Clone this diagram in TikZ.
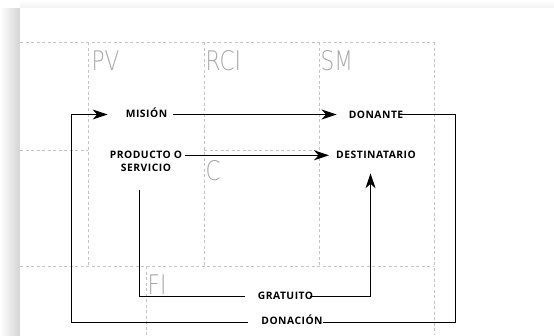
\documentclass[tikz,border=0pt]{standalone}
\usepackage{fontspec}
\setmainfont{Open Sans}
\newfontfamily\tagfont[LetterSpace=5]{Open Sans}
\newfontfamily\cellfont[FakeStretch=0.8]{DejaVuSans-ExtraLight.ttf}
\usetikzlibrary{arrows.meta}
\definecolor{gridgray}{HTML}{C4C4C4}
\definecolor{cellgray}{HTML}{A8A8A8}
\begin{document}
\begin{tikzpicture}[x=1pt,y=-1pt,
  grid/.style={draw=gridgray, line width=0.7pt, dash pattern=on 3pt off 2.5pt},
  tag/.style={font=\tagfont\bfseries\fontsize{10.3}{12.6}\selectfont, inner sep=0pt, align=center, text=black},
  cell/.style={font=\cellfont\fontsize{27}{27}\selectfont, text=cellgray, inner sep=0pt, anchor=base west},
  link/.style={draw=black, line width=0.9pt},
  arr/.style={link, -{Stealth[length=15pt,width=10pt,inset=4.5pt]}}]
% background and card
\useasboundingbox (0,0) rectangle (554,335);
\fill[white] (0,0) rectangle (554,335);
\shade[left color=white, right color=black!17] (0,8) rectangle (20,335);
\shade[top color=white, bottom color=black!5] (20,0) rectangle (554,8);
\fill[white] (20,8) rectangle (554,335);
% grid
\draw[grid] (20,42) -- (434,42);
\draw[grid] (88,42) -- (88,266);
\draw[grid] (204,42) -- (204,266);
\draw[grid] (319,42) -- (319,266);
\draw[grid] (434,42) -- (434,335);
\draw[grid] (20,150) -- (88,150);
\draw[grid] (204,150) -- (319,150);
\draw[grid] (20,266) -- (434,266);
\draw[grid] (146.5,266) -- (146.5,335);
% cell labels
\node[cell] (pv) at (91.5,70) {PV};
\node[cell] (rci) at (205.5,70) {RCI};
\node[cell] (sm) at (320.5,70) {SM};
\node[cell] (c) at (205.5,180) {C};
\node[cell] (fi) at (147.5,294) {FI};
% tags
\node[tag] (mision) at (146.5,113) {MISIÓN};
\node[tag] (donante) at (376,114.5) {DONANTE};
\node[tag] (producto) at (146,161.5) {PRODUCTO O\\SERVICIO};
\node[tag] (destinatario) at (376,155.3) {DESTINATARIO};
\node[tag] (gratuito) at (285.5,296) {GRATUITO};
\node[tag] (donacion) at (292,320) {DONACIÓN};
% helper corners
\coordinate (mrow) at (0,114.5);
\coordinate (lc) at (71.7,322);
\coordinate (rc) at (455.5,322);
\coordinate (pc) at (139.5,296);
\coordinate (gc) at (370.5,296);
\coordinate (ptop) at (139.5,190);
% connectors
\draw[arr, shorten <=6pt, shorten >=12pt] (mision.east |- mrow) -- (donante.west |- mrow);
\draw[link, shorten <=-3pt] (donante.east |- mrow) -| (rc) -- (donacion.east |- rc);
\draw[arr, shorten <=13pt, shorten >=18pt] (donacion.west |- lc) -| (lc |- mrow) -- (mision.west |- mrow);
\draw[arr, shorten <=3pt, shorten >=7pt] (producto.east |- destinatario) -- (destinatario.west);
\draw[link, shorten >=13pt] (ptop) -- (pc) -- (gratuito.west |- pc);
\draw[arr, shorten <=-3pt, shorten >=14pt] (gratuito.east |- gc) -- (gc) -- (gc |- destinatario.south);
\end{tikzpicture}
\end{document}
